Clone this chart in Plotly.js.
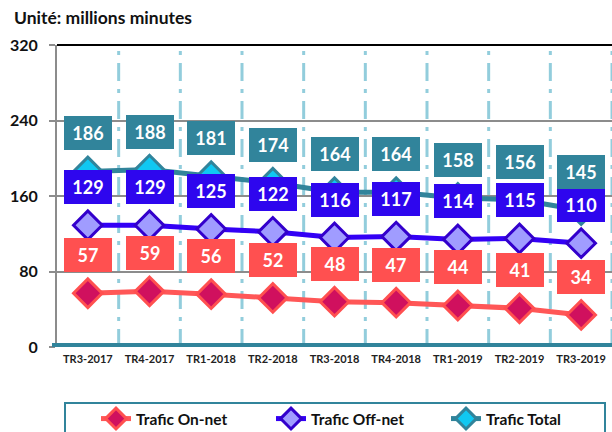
<!DOCTYPE html>
<html><head><meta charset="utf-8">
<script src="https://cdn.plot.ly/plotly-3.0.1.min.js"></script>
<style>html,body{margin:0;padding:0;background:#fff}</style>
</head><body>
<div id="chart" style="width:612px;height:432px"></div>
<script>
const categories = ["TR3-2017","TR4-2017","TR1-2018","TR2-2018","TR3-2018","TR4-2018","TR1-2019","TR2-2019","TR3-2019"];
const onNet = [57,59,56,52,48,47,44,41,34];
const offNet = [129,129,125,122,116,117,114,115,110];
const total = [186,188,181,174,164,164,158,156,145];
const yTicks = [0,80,160,240,320];

const FONT = "Lato, 'Open Sans', sans-serif";
const teal = "#31849B";

const xi = categories.map((c,i)=>i);

const traces = [
  {name:"Trafic On-net", x:xi, y:onNet, type:"scatter", mode:"lines+markers",
   line:{color:"#FF5757", width:5},
   marker:{symbol:"diamond", size:22, color:"#D0105E", line:{color:"#FF5050", width:3}}},
  {name:"Trafic Off-net", x:xi, y:offNet, type:"scatter", mode:"lines+markers",
   line:{color:"#3300F5", width:5},
   marker:{symbol:"diamond", size:22, color:"#A09CFF", line:{color:"#3300CC", width:3}}},
  {name:"Trafic Total", x:xi, y:total, type:"scatter", mode:"lines+markers",
   line:{color:teal, width:5},
   marker:{symbol:"diamond", size:22, color:"#10C8F2", line:{color:teal, width:3}}}
];

const annotations = [];
function addLabels(vals, bg){
  vals.forEach((v,i)=>annotations.push({
    x:i, y:v, xref:"x", yref:"y", text:"<b>"+v+"</b>", showarrow:false,
    yshift:38, bgcolor:bg, width:44, height:30, borderpad:2, borderwidth:0,
    font:{family:FONT, size:18, color:"#fff"}
  }));
}
addLabels(onNet, "#FF5050");
addLabels(offNet, "#2E06EE");
addLabels(total, teal);

const shapes = [];
for(let i=0;i<categories.length;i++){
  shapes.push({type:"line", xref:"x", yref:"paper", x0:i+0.5, x1:i+0.5, y0:0, y1:1,
    line:{color:"#92CDDC", width:3, dash:"18px,8px,4px,8px"}, layer:"below"});
}
shapes.push({type:"line", xref:"paper", yref:"paper", x0:0, x1:1, y0:1, y1:1, line:{color:"#000", width:2}});
shapes.push({type:"line", xref:"paper", yref:"y", x0:-5/555, x1:1, y0:0, y1:0, line:{color:teal, width:8}, layer:"above"});
shapes.push({type:"rect", xref:"paper", yref:"paper", x0:(65-57)/555, x1:(605-57)/555, y0:-56/302, y1:-100/302,
  line:{color:teal, width:2}, fillcolor:"rgba(0,0,0,0)"});

const layout = {
  width:612, height:432,
  margin:{l:57, r:0, t:45, b:85, autoexpand:false},
  paper_bgcolor:"#fff", plot_bgcolor:"#fff",
  title:{text:"<b>Unité: millions minutes</b>", x:14/612, xanchor:"left", xref:"container",
         y:1-18/432, yanchor:"middle", yref:"container", font:{family:FONT, size:17.5, color:"#111"}},
  xaxis:{range:[-0.5,8.5], tickvals:xi, ticktext:categories, showgrid:false, zeroline:false, automargin:false,
         showline:false, ticks:"", ticklabelstandoff:4, tickfont:{family:FONT, size:11, color:"#222", weight:"bold"}},
  yaxis:{range:[0,320], tickvals:yTicks, ticktext:yTicks.map(String), showgrid:true, gridcolor:"#8C8C8C", gridwidth:2,
         zeroline:false, showline:true, linecolor:"#8C8C8C", linewidth:2, ticks:"outside", ticklen:6, tickcolor:"#8C8C8C", tickwidth:2,
         automargin:false, ticklabelstandoff:8, tickfont:{family:FONT, size:16, color:"#111", weight:"bold"}},
  showlegend:true,
  legend:{orientation:"h", x:96/612, xref:"container", xanchor:"left", y:1-419/432, yref:"container", yanchor:"middle",
          entrywidth:130, entrywidthmode:"pixels", bgcolor:"rgba(0,0,0,0)",
          font:{family:FONT, size:15.5, color:"#111", weight:"bold"}},
  annotations:annotations, shapes:shapes
};
Plotly.newPlot("chart", traces, layout, {displayModeBar:false, staticPlot:true});
</script>
</body></html>
